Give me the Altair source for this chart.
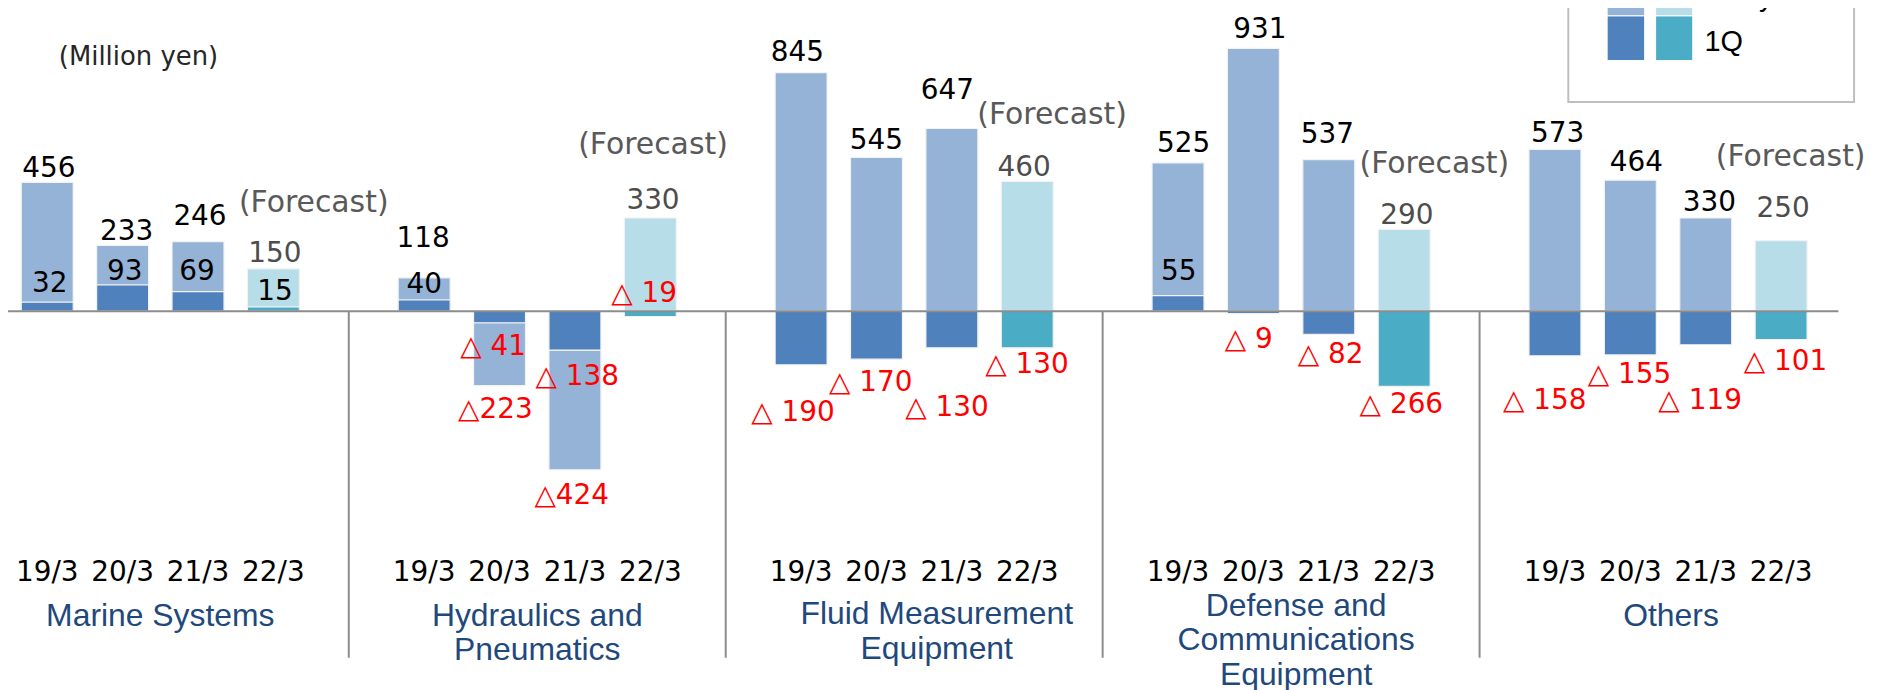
import altair as alt
import pandas as pd

# ---------------- data ----------------
segments = ["Marine Systems", "Hydraulics and Pneumatics", "Fluid Measurement Equipment",
            "Defense and Communications Equipment", "Others"]
segment_labels = ["Marine Systems", "Hydraulics and\nPneumatics", "Fluid Measurement\nEquipment",
                  "Defense and\nCommunications\nEquipment", "Others"]
years = ["19/3", "20/3", "21/3", "22/3"]
forecast_years = ["22/3"]

full_year_marine = [456, 233, 246, 150]
full_year_hydraulics = [118, -223, -424, 330]
full_year_fluid = [845, 545, 647, 460]
full_year_defense = [525, 931, 537, 290]
full_year_others = [573, 464, 330, 250]

q1_marine = [32, 93, 69, 15]
q1_hydraulics = [40, -41, -138, -19]
q1_fluid = [-190, -170, -130, -130]
q1_defense = [55, -9, -82, -266]
q1_others = [-158, -155, -119, -101]

full_year = [full_year_marine, full_year_hydraulics, full_year_fluid, full_year_defense, full_year_others]
first_quarter = [q1_marine, q1_hydraulics, q1_fluid, q1_defense, q1_others]

unit_text = "(Million yen)"
forecast_text = "(Forecast)"
legend_rows = ["Full year", "1Q"]

# ---------------- style / layout ----------------
C_FY, C_FY_F, C_Q1, C_Q1_F = "#95B3D7", "#B7DEE8", "#4F81BD", "#4BACC6"
RED = "#FF0000"
W, H = 1879, 690
BASE_PX = 311.0      # pixel row of zero
UNIT_PX = 0.2835     # pixels per million yen
SLOT0_PX = 47.4      # centre of first bar
SLOT_PX = 75.71      # distance between bars
BAR_HALF = 26.1 / SLOT_PX

x_dom = [-SLOT0_PX / SLOT_PX, (W - SLOT0_PX) / SLOT_PX]
y_dom = [-(H - BASE_PX) / UNIT_PX, BASE_PX / UNIT_PX]
xs = alt.Scale(domain=x_dom, nice=False, zero=False)
ys = alt.Scale(domain=y_dom, nice=False, zero=False)


def ypx(p):
    return (BASE_PX - p) / UNIT_PX


# label nudges in pixels (one per bar)
fy_dx = [1.6, 4, 2, 1.5, -1, 33.3, 34.3, 2.7, -3.7, 0, -4.5, -3.1, 5.7, 6.5, -1.5, 2.8, 2.6, 6, 3.7, 2]
fy_dy = [-5, -5.7, -16.3, -6.8, -30.8, 32.5, 34.7, -9.1, -11.4, -8.2, -29.3, -5.6,
         -11.5, -10.4, -17.1, -5.5, -7.9, -8.8, -7.4, -23.4]
q1_dx = [2.6, 2.2, -1.1, 1.5, 0, 26.6, 44.3, 26.9, 33.8, 36.2, 37, 41.7, 0.7, 19.5, 34.8, 39.1,
         31.7, 41, 36.3, 46.3]
q1_dy = [-10.2, -4.6, -12.1, -6.75, -6.4, 32.4, 34.9, -14.7, 56.8, 31.5, 68.8, 25.4, -16.1, 34.7,
         29.1, 26.9, 53.5, 27.8, 64.6, 30.4]
fc_dx = [40.5, 2.7, 25, 30.3, 9.6]
fc_dy = [-57.5, -64, -58, -57, -75]
cat_dx = [0, 0, 22.7, 5, 3]
cat_dy = [0, 0, -1.5, -10, 0]
YEAR_BASE_PX = 581.8
CAT_BASE_PX = 626.7

# ---------------- tables ----------------
bars, pos_lab, neg_lab, q1_lab, fc_lab, cat_lab, yr_lab = [], [], [], [], [], [], []
for g, seg in enumerate(segments):
    for i, yr in enumerate(years):
        k = g * 4 + i
        slot = g * 5 + i
        fy = full_year[g][i]
        q = first_quarter[g][i]
        fc = yr in forecast_years
        start = q if (fy < 0 and q < 0) else 0
        end = start + fy
        bars.append(dict(slot=slot, x0=slot - BAR_HALF, x1=slot + BAR_HALF, fy_start=start,
                         fy_end=end, q1=q, zero=0,
                         fy_kind="Full year forecast" if fc else "Full year",
                         q1_kind="1Q forecast" if fc else "1Q"))
        yr_lab.append(dict(t=yr, lx=slot, ly=ypx(YEAR_BASE_PX)))
        if fy >= 0:
            pos_lab.append(dict(t=str(fy), lx=slot + fy_dx[k] / SLOT_PX,
                                ly=end - fy_dy[k] / UNIT_PX, forecast=fc))
        else:
            neg_lab.append(dict(t="△" + str(abs(fy)), lx=slot + fy_dx[k] / SLOT_PX,
                                ly=end - fy_dy[k] / UNIT_PX))
        if q >= 0:
            q1_lab.append(dict(t=str(q), lx=slot + q1_dx[k] / SLOT_PX, ly=q - q1_dy[k] / UNIT_PX))
        else:
            neg_lab.append(dict(t="△ " + str(abs(q)), lx=slot + q1_dx[k] / SLOT_PX,
                                ly=q - q1_dy[k] / UNIT_PX))
        if fc:
            fc_lab.append(dict(t=forecast_text, lx=slot + fc_dx[g] / SLOT_PX,
                               ly=end - fc_dy[g] / UNIT_PX))
    cat_lab.append(dict(t=segment_labels[g], lx=g * 5 + 1.5 + cat_dx[g] / SLOT_PX,
                        ly=ypx(CAT_BASE_PX + cat_dy[g])))

bars = pd.DataFrame(bars)
pos_lab = pd.DataFrame(pos_lab)
neg_lab = pd.DataFrame(neg_lab)
q1_lab = pd.DataFrame(q1_lab)
fc_lab = pd.DataFrame(fc_lab)
cat_lab = pd.DataFrame(cat_lab)
yr_lab = pd.DataFrame(yr_lab)
n_slots = len(segments) * 5
seps = pd.DataFrame({"x": [g * 5 - 1 for g in range(1, len(segments))], "y": 0})
base = pd.DataFrame({"x": [x_dom[0] - 1], "x2": [n_slots - 1.24], "y": [0]})
one = pd.DataFrame({"a": [0]})

kind_scale = alt.Scale(domain=["Full year", "Full year forecast", "1Q", "1Q forecast"],
                       range=[C_FY, C_FY_F, C_Q1, C_Q1_F])

X_NONE = dict(scale=xs, axis=None)
Y_NONE = dict(scale=ys, axis=None)

fy_bars = alt.Chart(bars).mark_rect(stroke="#F2F2F2", strokeWidth=1.2).encode(
    x=alt.X("x0:Q", **X_NONE), x2="x1:Q",
    y=alt.Y("fy_start:Q", **Y_NONE), y2="fy_end:Q",
    color=alt.Color("fy_kind:N", scale=kind_scale, legend=None),
)
q1_bars = alt.Chart(bars).mark_rect(stroke="#F2F2F2", strokeWidth=1.2).encode(
    x=alt.X("x0:Q", **X_NONE), x2="x1:Q",
    y=alt.Y("zero:Q", **Y_NONE), y2="q1:Q",
    color=alt.Color("q1_kind:N", scale=kind_scale, legend=None),
)
baseline = alt.Chart(base).mark_rule(color="#8C8C8C", strokeWidth=2).encode(
    x=alt.X("x:Q", **X_NONE), x2="x2:Q", y=alt.Y("y:Q", **Y_NONE))
separators = alt.Chart(seps).mark_rule(color="#8C8C8C", strokeWidth=2).encode(
    x=alt.X("x:Q", **X_NONE), y=alt.Y("y:Q", **Y_NONE), y2=alt.value(659))

txt = dict(font="DejaVu Sans", fontSize=28, baseline="alphabetic")
pos_text = alt.Chart(pos_lab).mark_text(align="center", **txt).encode(
    x=alt.X("lx:Q", **X_NONE), y=alt.Y("ly:Q", **Y_NONE), text="t:N",
    color=alt.condition(alt.datum.forecast, alt.value("#4D4D4D"), alt.value("#000000")))
q1_text = alt.Chart(q1_lab).mark_text(align="center", color="#000000", **txt).encode(
    x=alt.X("lx:Q", **X_NONE), y=alt.Y("ly:Q", **Y_NONE), text="t:N")
neg_text = alt.Chart(neg_lab).mark_text(align="right", color=RED, **txt).encode(
    x=alt.X("lx:Q", **X_NONE), y=alt.Y("ly:Q", **Y_NONE), text="t:N")
fc_text = alt.Chart(fc_lab).mark_text(align="center", color="#595959", font="DejaVu Sans",
                                      fontSize=30, baseline="alphabetic").encode(
    x=alt.X("lx:Q", **X_NONE), y=alt.Y("ly:Q", **Y_NONE), text="t:N")
year_text = alt.Chart(yr_lab).mark_text(align="center", color="#000000", **txt).encode(
    x=alt.X("lx:Q", **X_NONE), y=alt.Y("ly:Q", **Y_NONE), text="t:N")
cat_text = alt.Chart(cat_lab).mark_text(align="center", baseline="alphabetic", lineBreak="\n",
                                        lineHeight=35, font="Liberation Sans", fontSize=32,
                                        color="#1F497D").encode(
    x=alt.X("lx:Q", **X_NONE), y=alt.Y("ly:Q", **Y_NONE), text="t:N")
unit = alt.Chart(one).mark_text(align="left", baseline="alphabetic", font="DejaVu Sans",
                                fontSize=26, color="#262626", text=unit_text).encode(
    x=alt.value(59), y=alt.value(63.3))

# legend (top right, partly cut by the frame as in the source)
legend_box = alt.Chart(one).mark_rect(fill="#FFFFFF", stroke="#BFBFBF", strokeWidth=2).encode(
    x=alt.value(1575), x2=alt.value(1862), y=alt.value(-20), y2=alt.value(101))
sw = []
for (x0, x1), (c_top, c_bot) in [((1614, 1651.7), (C_FY, C_Q1)), ((1662.7, 1700), (C_FY_F, C_Q1_F))]:
    sw.append(alt.Chart(one).mark_rect(fill=c_top, stroke="#FFFFFF", strokeWidth=1).encode(
        x=alt.value(x0), x2=alt.value(x1), y=alt.value(-30), y2=alt.value(14.5)))
    sw.append(alt.Chart(one).mark_rect(fill=c_bot, stroke="#FFFFFF", strokeWidth=1).encode(
        x=alt.value(x0), x2=alt.value(x1), y=alt.value(14.5), y2=alt.value(59.3)))
leg_txt = []
for lab, yb in zip(legend_rows, [5, 49.3]):
    leg_txt.append(alt.Chart(one).mark_text(align="left", baseline="alphabetic",
                                            font="Liberation Sans", fontSize=29,
                                            color="#000000", text=lab).encode(
        x=alt.value(1711.7), y=alt.value(yb)))

chart = alt.layer(
    fy_bars, q1_bars, baseline, separators, pos_text, q1_text, neg_text, fc_text, year_text,
    cat_text, unit, legend_box, *sw, *leg_txt
).properties(
    width=W, height=H,
    autosize=alt.AutoSizeParams(type="none"),
    padding={"left": -8, "top": -8, "right": 0, "bottom": 0},
    background="#FFFFFF",
).configure_view(stroke=None)

chart.save("out.html", embed_options={"renderer": "svg", "actions": False})
